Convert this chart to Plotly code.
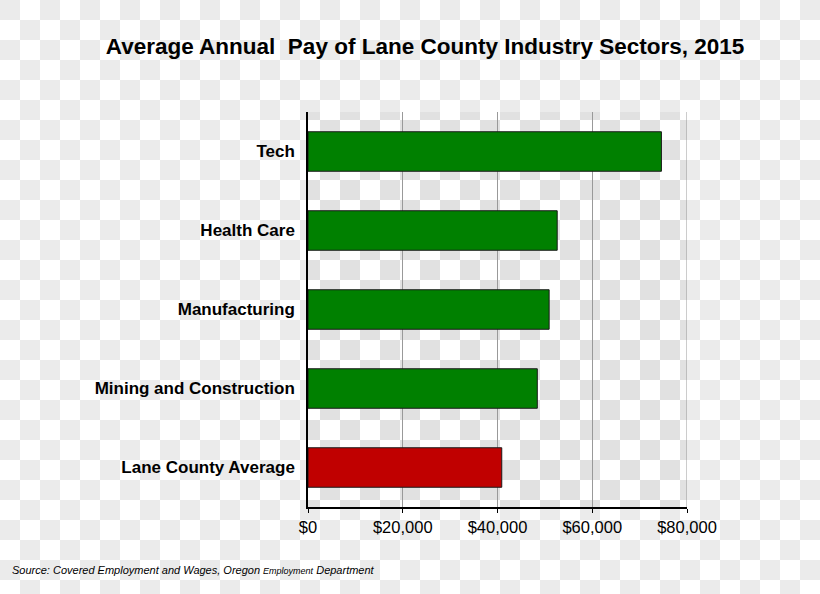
import plotly.graph_objects as go

categories = ["Tech", "Health Care", "Manufacturing", "Mining and Construction", "Lane County Average"]
pay = [74600, 52600, 50900, 48400, 40900]
bar_colors = ["#008000", "#008000", "#008000", "#008000", "#c00000"]
tick_vals = [0, 20000, 40000, 60000, 80000]
tick_text = ["$0", "$20,000", "$40,000", "$60,000", "$80,000"]

W, H = 820, 594
L, R, T, B = 308, 133, 112, 87
PW, PH = W - L - R, H - T - B

fig = go.Figure()
fig.add_trace(go.Bar(
    y=categories, x=pay, orientation="h",
    marker=dict(color=bar_colors, line=dict(color="#1a1a1a", width=1)),
    width=0.5, showlegend=False, hoverinfo="skip",
))

# checkerboard background (transparency pattern)
shapes = []
sq = 20
for i in range(W // sq + 1):
    for j in range(H // sq + 1):
        if (i + j) % 2 == 0:
            px0, px1 = i * sq, i * sq + sq
            py0, py1 = j * sq, j * sq + sq
            shapes.append(dict(
                type="rect", layer="below", line=dict(width=0),
                fillcolor="#ebebeb", xref="paper", yref="paper",
                x0=(px0 - L) / PW, x1=(px1 - L) / PW,
                y0=(H - B - py1) / PH, y1=(H - B - py0) / PH,
            ))
            cx0, cx1 = max(px0, L), min(px1, W - R)
            cy0, cy1 = max(py0, T), min(py1, H - B)
            if cx1 > cx0 and cy1 > cy0:
                shapes.append(dict(
                    type="rect", layer="between", line=dict(width=0),
                    fillcolor="rgba(0,0,0,0.04)", xref="paper", yref="paper",
                    x0=(cx0 - L) / PW, x1=(cx1 - L) / PW,
                    y0=(H - B - cy1) / PH, y1=(H - B - cy0) / PH,
                ))

fig.update_layout(
    width=W, height=H,
    margin=dict(l=L, r=R, t=T, b=B),
    paper_bgcolor="rgba(0,0,0,0)", plot_bgcolor="rgba(0,0,0,0)",
    font=dict(family="Liberation Sans, Arial, sans-serif", color="#000000"),
    shapes=shapes,
    title=dict(
        text="<b>Average Annual  Pay of Lane County Industry Sectors, 2015</b>",
        x=425 / W, xanchor="center", y=1 - 46 / H, yanchor="middle",
        font=dict(size=22.5, color="#000000"),
    ),
    xaxis=dict(
        range=[0, 80000], tickvals=tick_vals, ticktext=tick_text,
        showgrid=True, gridcolor="#999999", gridwidth=1,
        showline=True, linecolor="#000000", linewidth=1.5,
        ticks="outside", ticklen=4, tickcolor="#000000",
        tickfont=dict(size=16.5), zeroline=False, fixedrange=True,
    ),
    yaxis=dict(
        categoryorder="array", categoryarray=categories[::-1],
        range=[-0.5, 4.5],
        showline=True, linecolor="#000000", linewidth=1.5,
        ticks="", ticklen=0, showgrid=False,
        tickfont=dict(size=17, family="Liberation Sans, Arial, sans-serif"),
        ticklabelstandoff=8, fixedrange=True,
    ),
    annotations=[dict(
        text="<i>Source: Covered Employment and Wages, Oregon <span style='font-size:9px'>Employment</span> Department</i>",
        xref="paper", yref="paper",
        x=(10 - L) / PW, y=(H - B - 570) / PH,
        xanchor="left", yanchor="middle", showarrow=False,
        font=dict(size=11, color="#000000"),
    )],
)
fig.update_yaxes(tickprefix="<b>", ticksuffix="</b>")

# gridline at the right edge
fig.add_shape(type="line", xref="x", yref="paper", x0=80000, x1=80000, y0=0, y1=1,
              line=dict(color="#999999", width=1), layer="between")

fig.write_html(
    "out.html",
    config={"displayModeBar": False},
    post_script="document.body.style.margin='0px';document.body.style.overflow='hidden';",
)
